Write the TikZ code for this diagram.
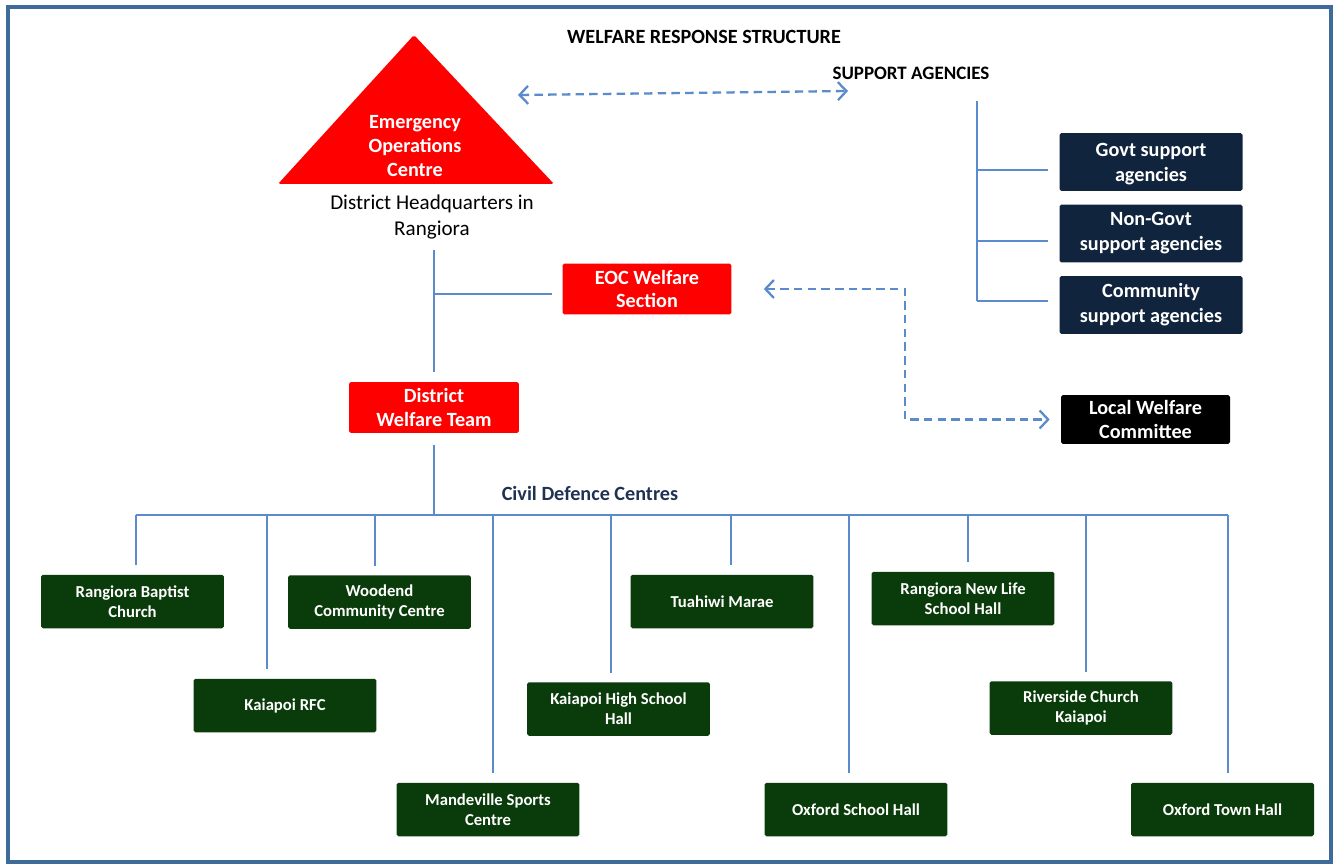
\documentclass[tikz,border=0pt]{standalone}
\usepackage{fontspec}
\setmainfont{Carlito}
\usetikzlibrary{arrows.meta,positioning}
\definecolor{eocred}{HTML}{FF0000}
\definecolor{navy}{HTML}{10243E}
\definecolor{cdgreen}{HTML}{0A3B0A}
\definecolor{linkblue}{HTML}{5B8BCB}
\definecolor{frameblue}{HTML}{3F6B9B}
\definecolor{headnavy}{HTML}{1F3251}
\tikzset{
  framebox/.style={draw=frameblue, line width=1.8pt},
  conn/.style={draw=linkblue, line width=1.1pt},
  dconn/.style={draw=linkblue, line width=1.3pt, dash pattern=on 4.8pt off 3pt,
    {Straight Barb[length=1.7mm,width=3.6mm]}-{Straight Barb[length=1.7mm,width=3.6mm]}},
  redbox/.style={fill=eocred, text=white, font=\fontsize{11.5}{13.6}\selectfont\bfseries,
    align=center, minimum width=3.38cm, minimum height=1.02cm, rounded corners=1pt, inner sep=0pt},
  agbox/.style={redbox, fill=navy, minimum width=3.66cm, minimum height=1.16cm,
    font=\fontsize{11.5}{14.2}\selectfont\bfseries},
  lwcbox/.style={redbox, fill=black, minimum width=3.38cm, minimum height=0.98cm},
  cdbox/.style={fill=cdgreen, text=white, font=\fontsize{9.5}{11.3}\selectfont\bfseries,
    align=center, minimum width=3.66cm, minimum height=1.07cm, rounded corners=1pt, inner sep=0pt},
  heading/.style={font=\fontsize{11.5}{14}\selectfont\bfseries},
  plain/.style={font=\fontsize{12}{14.7}\selectfont, align=center}
}

\begin{document}
\begin{tikzpicture}[x=0.02cm, y=-0.02cm]
  \useasboundingbox (0,0) rectangle (1338,868);
  \draw[framebox] (8,7) rectangle (1331,862);

  \node[heading] (title) at (704,37) {WELFARE RESPONSE STRUCTURE};
  \node[heading, font=\fontsize{10.8}{13}\selectfont\bfseries] (sa) at (911,73) {SUPPORT AGENCIES};

  % EOC triangle
  \fill[eocred, rounded corners=1pt] (414,35) -- (554,184) -- (278,184) -- cycle;
  \node[text=white, font=\fontsize{11.5}{13.6}\selectfont\bfseries, align=center] (eoc) at (415,146)
    {Emergency\\Operations\\Centre};
  \node[plain] (hq) at (432,217) {District Headquarters in\\Rangiora};

  \node[redbox] (eocw) at (647,289) {EOC Welfare\\Section};
  \node[redbox, minimum width=3.4cm] (dwt) at (434,407.5) {District\\Welfare Team};
  \node[lwcbox] (lwc) at (1145.5,419.5) {Local Welfare\\Committee};

  \coordinate (trunk) at (434,250);
  \coordinate (breocw) at (434,294);
  \draw[conn, shorten >=0.2cm] (trunk) -- (dwt.north);
  \draw[conn, shorten >=0.2cm] (breocw) -- (breocw -| eocw.west);

  % links
  \coordinate (linkl) at (518,95);
  \coordinate (linkr) at (848,91);
  \draw[dconn] (linkl) -- (linkr);
  \coordinate (bend) at (905,355);
  \draw[dconn, shorten <=0.64cm, shorten >=0.22cm] (eocw.east) -| (bend) |- (lwc.west);

  % support agencies
  \node[agbox, text depth=-4pt] (govt) at (1151,162) {Govt support\\agencies};
  \node[agbox] (ngo) at (1151,233.5) {Non-Govt\\support agencies};
  \node[agbox] (comm) at (1151,305) {Community\\support agencies};
  \coordinate (satop) at (977,101);
  \coordinate (sa1) at (977,170);
  \coordinate (sa2) at (977,241);
  \coordinate (sa3) at (977,301);
  \draw[conn] (satop) -- (sa3);
  \foreach \a/\b in {sa1/govt, sa2/ngo, sa3/comm}
    \draw[conn, shorten >=0.22cm] (\a) -- (\a -| \b.west);

  % civil defence centres
  \node[heading, text=headnavy] (cdc) at (590,493) {Civil Defence Centres};
  \coordinate (bus) at (434,515);
  \draw[conn, shorten <=0.24cm] (dwt.south) -- (bus);
  \foreach \n/\x/\y/\lx/\t in {
      rbc/132.5/601.5/136/{Rangiora Baptist\\Church},
      krfc/285/705.5/267/{Kaiapoi RFC},
      wcc/379.5/602/375/{Woodend\\Community Centre},
      msc/488/809.5/493/{Mandeville Sports\\Centre},
      khs/618.5/709/611/{Kaiapoi High School\\Hall},
      tm/722/601.5/731/{Tuahiwi Marae},
      osh/856/809.5/849/{Oxford School Hall},
      rnl/963/598.5/968/{Rangiora New Life\\School Hall},
      rck/1081/708/1086/{Riverside Church\\Kaiapoi},
      oth/1222.5/809.5/1228/{Oxford Town Hall}}{
    \node[cdbox] (c\n) at (\x,\y) {\t};
    \coordinate (d\n) at (\lx,515);
    \draw[conn, shorten >=0.18cm] (d\n) -- (d\n |- c\n.north);
  }
  \draw[conn] (drbc) -- (doth);
\end{tikzpicture}
\end{document}
